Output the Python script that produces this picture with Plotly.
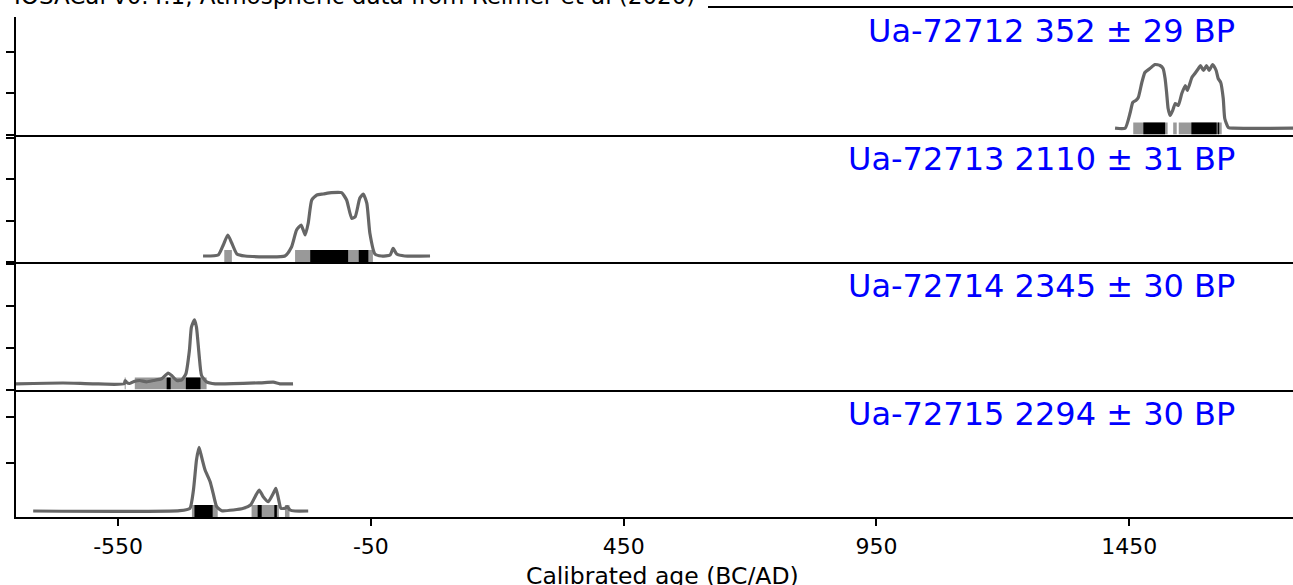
import plotly.graph_objects as go

# ---------------- data ----------------
sample_ids = ["Ua-72712", "Ua-72713", "Ua-72714", "Ua-72715"]
bp_ages = [352, 2110, 2345, 2294]
bp_errors = [29, 31, 30, 30]

# calibrated probability curves (year BC/AD, relative density incl. baseline)
years_1 = [1422, 1442, 1452, 1457, 1463, 1468, 1475, 1481, 1491, 1501, 1511, 1517, 1521,
           1524, 1527, 1531, 1536, 1541, 1547, 1554, 1561, 1565, 1574, 1580, 1587, 1591,
           1597, 1603, 1608, 1615, 1622, 1626, 1631, 1636, 1639, 1646, 1656, 1774]
dens_1 = [6.3, 6.3, 22, 32, 34, 37, 52, 62, 66, 70, 69, 66, 56,
          42, 26, 19, 24, 31, 29, 41, 49, 44, 57, 61, 66, 69,
          64, 69, 64, 70, 64, 56, 52, 36, 16, 7, 6.3, 6.3]

years_2 = [-382, -352, -342, -333, -325, -315, -299, -220, -207, -197, -188, -180, -174,
           -167, -157, -144, -128, -108, -98, -88, -81, -72, -65, -58, -52, -42, -29,
           -12, -6, 1, 17, 67]
dens_2 = [6, 7, 17, 27, 18.7, 8, 6, 6, 15, 32, 37, 27, 38.7,
          62, 67, 68, 69.3, 69.3, 62, 43.7, 45.3, 63.7, 68, 58.7, 28.7, 8, 6,
          7, 13.7, 8, 6, 6]

years_3 = [-752, -659, -600, -538, -536, -533, -527, -517, -507, -494, -480, -464, -451,
           -444, -434, -424, -416, -409, -405, -399, -395, -390, -385, -375, -358, -269,
           -243, -230, -204]
dens_3 = [5.7, 6.5, 5.7, 5.7, 9, 7, 6, 8.3, 9, 7.7, 9, 10.7, 16.3,
          14, 9, 9.7, 15.7, 39, 62.3, 69.7, 62.3, 35.7, 14, 7.7, 5.7, 6.7,
          7.3, 5.7, 5.7]

years_4 = [-718, -428, -408, -401, -395, -390, -385, -378, -368, -362, -355, -345, -322,
           -302, -288, -279, -271, -263, -253, -243, -238, -233, -228, -220, -215, -210,
           -200, -174]
dens_4 = [6, 6.3, 8.7, 27, 57, 69.7, 60.3, 47, 35.3, 23.7, 10.3, 6.3, 7,
          8.7, 12, 20.3, 27, 20.3, 15.3, 23.7, 28.7, 18.7, 8.7, 8.7, 10.3, 7,
          6, 6]

# highest posterior density intervals (95 % grey, 68 % black)
hpd95_1 = [(1458, 1526), (1537, 1544), (1548, 1633)]
hpd68_1 = [(1478, 1521), (1573, 1623), (1625, 1628)]
hpd95_2 = [(-340, -325), (-200, -46)]
hpd68_2 = [(-170, -95), (-74, -55)]
hpd95_3 = [(-537, -535), (-517, -375)]
hpd68_3 = [(-454, -446), (-416, -387)]
hpd95_4 = [(-404, -353), (-286, -232), (-220, -211)]
hpd68_4 = [(-399, -363), (-274, -266), (-241, -236)]

tick_vals = [-550, -50, 450, 950, 1450]
tick_text = [str(v) for v in tick_vals]
x_range = [-752, 1774]

credit = "IOSACal v0.4.1, Atmospheric data from Reimer et al (2020)"
x_title = "Calibrated age (BC/AD)"

# ---------------- figure ----------------
W, H = 1293, 585
ML, MR, MT, MB = 16, 0, 7, 68
PW, PH = W - ML - MR, H - MT - MB
n = 4
panel_h = PH / n
bar_h = 12
FONT = "DejaVu Sans"

curves = [(years_1, dens_1), (years_2, dens_2), (years_3, dens_3), (years_4, dens_4)]
hpd95 = [hpd95_1, hpd95_2, hpd95_3, hpd95_4]
hpd68 = [hpd68_1, hpd68_2, hpd68_3, hpd68_4]
ytick_sets = [[0, 41.5, 83, 124.5], [0, 41.5, 83, 124.5], [0, 42, 84, 126], [54, 100]]

fig = go.Figure()
layout = dict(
    width=W, height=H, margin=dict(l=ML, r=MR, t=MT, b=MB, autoexpand=False),
    paper_bgcolor="white", plot_bgcolor="white", showlegend=False,
    font=dict(family=FONT, color="black"),
)

annotations = []
shapes = []
for i in range(n):
    k = i + 1
    xa = "x" if k == 1 else f"x{k}"
    ya = "y" if k == 1 else f"y{k}"
    for intervals, col in ((hpd95[i], "#999999"), (hpd68[i], "#000000")):
        for a, b in intervals:
            fig.add_trace(go.Scatter(
                x=[a, b, b, a, a], y=[0, 0, bar_h, bar_h, 0], mode="lines",
                fill="toself", fillcolor=col, line=dict(width=0, color=col),
                xaxis=xa, yaxis=ya, hoverinfo="skip"))
    xs, ys = curves[i]
    fig.add_trace(go.Scatter(x=xs, y=ys, mode="lines",
                             line=dict(color="#666666", width=3.2,
                                       shape="spline", smoothing=0.5),
                             xaxis=xa, yaxis=ya))
    top = 1 - i / n
    bottom = 1 - (i + 1) / n
    last = (k == n)
    layout["xaxis" if k == 1 else f"xaxis{k}"] = dict(
        domain=[0, 1], anchor=ya, range=x_range, automargin=False,
        showline=True, linecolor="black", linewidth=1.8,
        showgrid=False, zeroline=False,
        ticks="outside" if last else "", ticklen=7, tickwidth=1.5, tickcolor="black",
        tickvals=tick_vals, ticktext=tick_text,
        showticklabels=last, tickfont=dict(size=22, family=FONT, color="black"),
        ticklabelstandoff=2,
        matches=None if k == 1 else "x",
    )
    layout["yaxis" if k == 1 else f"yaxis{k}"] = dict(
        domain=[bottom, top], anchor=xa, range=[0, panel_h], automargin=False,
        showline=True, linecolor="black", linewidth=1.8,
        showgrid=False, zeroline=False,
        ticks="outside", ticklen=8, tickwidth=1.5, tickcolor="black",
        tickvals=ytick_sets[i], showticklabels=False,
    )
    annotations.append(dict(
        text=f"{sample_ids[i]} {bp_ages[i]} ± {bp_errors[i]} BP",
        xref="paper", yref=f"{ya} domain",
        x=(1237 - ML) / PW, y=1 - 24 / panel_h, xanchor="right", yanchor="middle",
        showarrow=False, font=dict(size=32, family=FONT, color="#0000ff")))

# x-axis title
annotations.append(dict(
    text=x_title, xref="paper", yref="paper",
    x=(662 - ML) / PW, y=-(576 - (H - MB)) / PH, xanchor="center", yanchor="middle",
    showarrow=False, font=dict(size=23.5, family=FONT, color="black")))

# credit line box at the top (covers the upper part of the first spine)
shapes.append(dict(type="rect", xref="paper", yref="paper",
                   x0=-ML / PW, x1=(708 - ML) / PW, y0=1 - 10 / PH, y1=1 + MT / PH,
                   fillcolor="white", line=dict(width=0), layer="above"))
shapes.append(dict(type="line", xref="paper", yref="paper",
                   x0=(708 - ML) / PW, x1=1, y0=1, y1=1,
                   line=dict(color="black", width=1.8), layer="above"))
annotations.append(dict(
    text=credit, xref="paper", yref="paper",
    x=(12 - ML) / PW, y=1 - 4 / PH, xanchor="left", yanchor="bottom",
    showarrow=False, font=dict(size=23, family=FONT, color="black")))

layout["annotations"] = annotations
layout["shapes"] = shapes
fig.update_layout(**layout)
fig.write_html("out.html", config={"displayModeBar": False},
               post_script="document.body.style.margin='0';document.body.style.padding='0';")
